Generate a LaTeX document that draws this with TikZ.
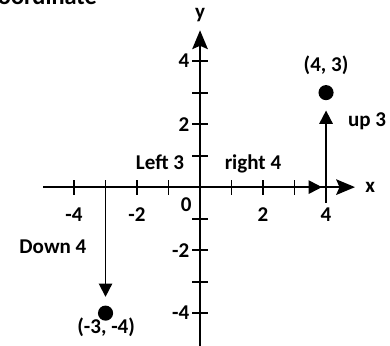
\documentclass[tikz,border=0pt]{standalone}
\usepackage{fontspec}
\setmainfont{Carlito}
\usetikzlibrary{arrows.meta}
\begin{document}
\begin{tikzpicture}[x=1cm,y=1cm,
  font=\fontsize{19}{22}\selectfont\bfseries,
  axis/.style={line width=2pt, -{Stealth[length=17pt,width=14pt,inset=3pt]}},
  move/.style={line width=1.6pt, -{Triangle[length=12pt,width=12pt]}},
  dot/.style={circle, fill=black, inner sep=0pt, minimum size=0.48cm},
  tick/.style={line width=1.6pt}]
\useasboundingbox (-6.35,-5.02) rectangle (6.03,5.94);

% cropped title
\node[anchor=base east, inner sep=0pt, font=\fontsize{22}{26}\selectfont\bfseries] (title) at (-3.27,5.80) {Coordinate};

% axes
\coordinate (O) at (0,0);
\coordinate (xl) at (-4.98,0);
\coordinate (xr) at (4.92,0);
\coordinate (yb) at (0,-5.1);
\coordinate (yt) at (0,4.98);
\draw[axis] (xl) -- (xr);
\draw[axis] (yb) -- (yt);
\node (xlab) at (5.4,0) {x};
\node (ylab) at (0,5.46) {y};

% ticks
\foreach \i in {-4,-3,-2,-1,1,2,3,4} {
  \draw[tick] (\i,-0.24) -- (\i,0.24);
  \draw[tick] (-0.24,\i) -- (0.24,\i);
}
\foreach \i in {-4,-2,2,4} {
  \node (xt\i) at (\i,-0.86) {\i};
}
\node[anchor=east] (yt4) at (-0.22,4) {4};
\node[anchor=east] (yt2) at (-0.22,2) {2};
\node[anchor=east] (ytm2) at (-0.22,-2) {-2};
\node[anchor=east] (ytm4) at (-0.22,-4) {-4};
\node (zero) at (-0.44,-0.57) {0};

% points
\node[dot] (P) at (4,3) {};
\node[dot] (Q) at (-3,-4) {};
\node (Plab) at (4,3.87) {(4, 3)};
\node (Qlab) at (-2.98,-4.44) {(-3, -4)};

% moves
\coordinate (a3) at (-3,0);
\coordinate (b4) at (4,-0.5);
\coordinate (r4) at (3.87,0);
\draw[move] (O) -- (r4);
\draw[move, shorten >=0.27cm] (a3) -- (Q);
\draw[move, shorten >=0.32cm] (b4) -- (P);
\node[anchor=base] (left) at (-1.27,0.55) {Left 3};
\node[anchor=base] (right) at (1.68,0.55) {right 4};
\node (down) at (-4.67,-1.9) {Down 4};
\node (up) at (5.3,2.1) {up 3};
\end{tikzpicture}
\end{document}
